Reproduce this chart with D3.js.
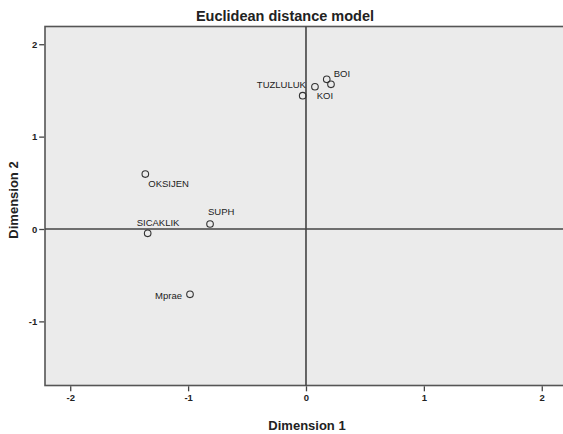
<!DOCTYPE html>
<html>
<head>
<meta charset="utf-8">
<script src="https://cdn.jsdelivr.net/npm/d3@7"></script>
<style>
    body { margin: 0; background: #fff; }
    text { font-family: "Liberation Sans", Arial, sans-serif; }
</style>
</head>
<body>
<div id="chart"></div>
<script>
// Stimulus coordinates
const names = ["BOI", "", "TUZLULUK", "KOI", "OKSIJEN", "SICAKLIK", "SUPH", "Mprae"];
const dim1 = [0.176, 0.212, 0.076, -0.028, -1.363, -1.343, -0.814, -0.984];
const dim2 = [1.620, 1.566, 1.540, 1.443, 0.595, -0.047, 0.054, -0.707];
const xTicks = [-2, -1, 0, 1, 2];
const yTicks = [-1, 0, 1, 2];

const width = 563, height = 434;

let svg = d3.select("#chart").append("svg")
    .attr("width", width)
    .attr("height", height);

// plot box runs past the right edge of the picture
let x = d3.scaleLinear().domain([-2.214, 2.282]).range([45, 575]);
let y = d3.scaleLinear().domain([-1.694, 2.192]).range([385.5, 26.5]);

// label placement next to each point
const place = {
    "BOI": { dx: 7, dy: -2, anchor: "start" },
    "TUZLULUK": { dx: -9, dy: 1, anchor: "end" },
    "KOI": { dx: 14, dy: 3, anchor: "start" },
    "OKSIJEN": { dx: 3, dy: 12.5, anchor: "start" },
    "SICAKLIK": { dx: -11, dy: -7, anchor: "start" },
    "SUPH": { dx: -2, dy: -9, anchor: "start" },
    "Mprae": { dx: -8, dy: 5, anchor: "end" }
};

svg.append("rect")
    .attr("x", x.range()[0])
    .attr("y", y.range()[1])
    .attr("width", x.range()[1] - x.range()[0])
    .attr("height", y.range()[0] - y.range()[1])
    .attr("fill", "#ebebeb")
    .attr("stroke", "#555")
    .attr("stroke-width", 1.6);

// reference lines through the origin
svg.append("line")
    .attr("x1", x(0)).attr("x2", x(0))
    .attr("y1", y.range()[1]).attr("y2", y.range()[0])
    .attr("stroke", "#444").attr("stroke-width", 1.6);
svg.append("line")
    .attr("x1", x.range()[0]).attr("x2", x.range()[1])
    .attr("y1", y(0)).attr("y2", y(0))
    .attr("stroke", "#444").attr("stroke-width", 1.6);

// axes (plain hyphen for negatives, like the original)
let xAxis = d3.axisBottom(x).tickValues(xTicks).tickSize(5).tickSizeOuter(0).tickFormat(d => String(d));
let yAxis = d3.axisLeft(y).tickValues(yTicks).tickSize(5).tickSizeOuter(0).tickFormat(d => String(d));

let gx = svg.append("g")
    .attr("transform", "translate(0," + (y.range()[0] + 0.8) + ")")
    .call(xAxis);
let gy = svg.append("g")
    .attr("transform", "translate(" + (x.range()[0] - 0.8) + ",0)")
    .call(yAxis);

[gx, gy].forEach(g => {
    g.select(".domain").remove();
    g.selectAll(".tick line").attr("stroke", "#444").attr("stroke-width", 1.3);
    g.selectAll(".tick text")
        .attr("fill", "#222")
        .style("font-size", "9.5px")
        .style("font-weight", "bold")
        .style("font-family", "'Liberation Sans', Arial, sans-serif");
});
gx.selectAll(".tick text").attr("dy", "0.9em").attr("y", 6);
gy.selectAll(".tick text").attr("x", -7);

// points
let pts = dim1.map((d, i) => ({ name: names[i], d1: d, d2: dim2[i] }));

svg.selectAll(".pt")
    .data(pts)
    .enter().append("circle")
    .attr("class", "pt")
    .attr("cx", d => x(d.d1))
    .attr("cy", d => y(d.d2))
    .attr("r", 3.3)
    .attr("fill", "none")
    .attr("stroke", "#333")
    .attr("stroke-width", 1.1);

svg.selectAll(".pt-label")
    .data(pts.filter(d => d.name !== ""))
    .enter().append("text")
    .attr("class", "pt-label")
    .attr("x", d => x(d.d1) + place[d.name].dx)
    .attr("y", d => y(d.d2) + place[d.name].dy)
    .attr("text-anchor", d => place[d.name].anchor)
    .attr("fill", "#222")
    .style("font-size", "9.5px")
    .text(d => d.name);

// titles
svg.append("text")
    .attr("x", 285)
    .attr("y", 21)
    .attr("text-anchor", "middle")
    .style("font-size", "14.5px")
    .style("font-weight", "bold")
    .attr("fill", "#222")
    .text("Euclidean distance model");

svg.append("text")
    .attr("x", 307)
    .attr("y", 430)
    .attr("text-anchor", "middle")
    .style("font-size", "13px")
    .style("font-weight", "bold")
    .attr("fill", "#222")
    .text("Dimension 1");

svg.append("text")
    .attr("transform", "translate(18,200) rotate(-90)")
    .attr("text-anchor", "middle")
    .style("font-size", "13px")
    .style("font-weight", "bold")
    .attr("fill", "#222")
    .text("Dimension 2");
</script>
</body>
</html>
